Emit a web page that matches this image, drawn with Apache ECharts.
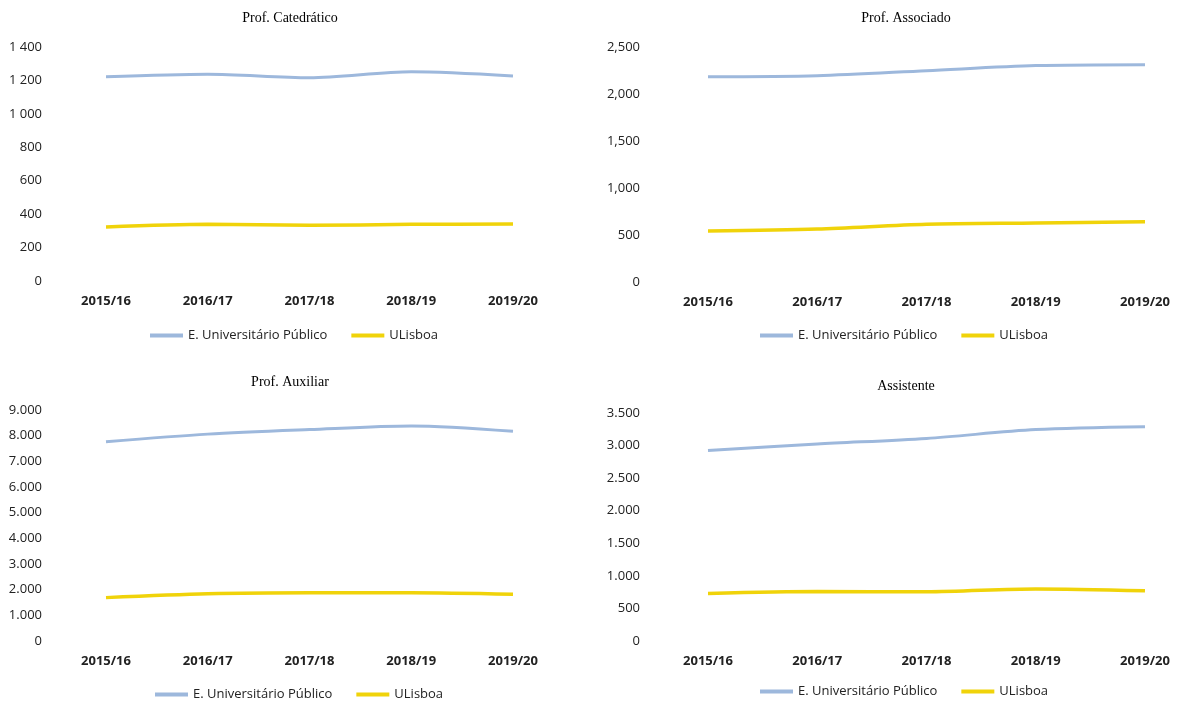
<!DOCTYPE html>
<html>
<head>
<meta charset="utf-8">
<title>Docentes por categoria</title>
<script src="https://cdn.jsdelivr.net/npm/echarts@6/dist/echarts.min.js"></script>
<style>
  html, body { margin: 0; padding: 0; background: #ffffff; }
  #chart { width: 1179px; height: 708px; }
</style>
</head>
<body>
<div id="chart"></div>
<script>
// Academic years on the category axis
const years = ['2015/16', '2016/17', '2017/18', '2018/19', '2019/20'];

// Series names
const seriesPublic = 'E. Universitário Público';
const seriesULisboa = 'ULisboa';

// Panel titles
const panelTitles = ['Prof. Catedrático', 'Prof. Associado', 'Prof. Auxiliar', 'Assistente'];

// Headcounts per category
const catPublic = [1222, 1237, 1216, 1252, 1227];
const catULisboa = [323, 339, 333, 339, 341];

const assocPublic = [2184, 2195, 2248, 2302, 2312];
const assocULisboa = [543, 564, 614, 628, 642];

const auxPublic = [7760, 8060, 8240, 8380, 8170];
const auxULisboa = [1690, 1840, 1880, 1880, 1820];

const assistPublic = [2925, 3025, 3110, 3245, 3290];
const assistULisboa = [730, 760, 755, 800, 772];

// Y-axis tick labels, as printed on each panel
const catTicks = ['0', '200', '400', '600', '800', '1 000', '1 200', '1 400'];
const assocTicks = ['0', '500', '1,000', '1,500', '2,000', '2,500'];
const auxTicks = ['0', '1.000', '2.000', '3.000', '4.000', '5.000', '6.000', '7.000', '8.000', '9.000'];
const assistTicks = ['0', '500', '1.000', '1.500', '2.000', '2.500', '3.000', '3.500'];

const BLUE = '#9db8dc';
const YELLOW = '#f0d30a';
const SANS = '"Open Sans", "Liberation Sans", sans-serif';
const SERIF = '"Liberation Serif", "DejaVu Serif", serif';

const panels = [
  { pub: catPublic, uli: catULisboa, ticks: catTicks, step: 200,
    grid: { left: 106, top: 47, width: 407, height: 234 }, labelMargin: 64,
    title: { x: 290, y: 11 }, legend: { x: 150, y: 329 } },
  { pub: assocPublic, uli: assocULisboa, ticks: assocTicks, step: 500,
    grid: { left: 708, top: 47, width: 437, height: 235 }, labelMargin: 68,
    title: { x: 906, y: 11 }, legend: { x: 760, y: 329 } },
  { pub: auxPublic, uli: auxULisboa, ticks: auxTicks, step: 1000,
    grid: { left: 106, top: 410, width: 407, height: 231 }, labelMargin: 64,
    title: { x: 290, y: 375 }, legend: { x: 155, y: 688 } },
  { pub: assistPublic, uli: assistULisboa, ticks: assistTicks, step: 500,
    grid: { left: 708, top: 413, width: 437, height: 228 }, labelMargin: 68,
    title: { x: 906, y: 379 }, legend: { x: 760, y: 685 } }
];

const option = {
  backgroundColor: '#ffffff',
  animation: false,
  title: [],
  legend: [],
  grid: [],
  xAxis: [],
  yAxis: [],
  series: []
};

panels.forEach(function (p, i) {
  option.title.push({
    text: panelTitles[i],
    left: p.title.x,
    top: p.title.y,
    textAlign: 'center',
    padding: 0,
    textStyle: { fontFamily: SERIF, fontSize: 14, fontWeight: 'normal', color: '#000' }
  });
  option.legend.push({
    data: [seriesPublic, seriesULisboa],
    left: p.legend.x,
    top: p.legend.y,
    padding: 0,
    icon: 'rect',
    itemWidth: 33,
    itemHeight: 4,
    itemGap: 24,
    selectedMode: false,
    textStyle: { fontFamily: SANS, fontSize: 13, color: '#222' }
  });
  option.grid.push({
    left: p.grid.left,
    top: p.grid.top,
    width: p.grid.width,
    height: p.grid.height,
    containLabel: false
  });
  option.xAxis.push({
    type: 'category',
    gridIndex: i,
    data: years,
    boundaryGap: false,
    axisLine: { show: false },
    axisTick: { show: false },
    splitLine: { show: false },
    axisLabel: {
      margin: 14,
      fontFamily: SANS,
      fontSize: 13,
      fontWeight: 'bold',
      color: '#222'
    }
  });
  option.yAxis.push({
    type: 'value',
    gridIndex: i,
    min: 0,
    max: p.step * (p.ticks.length - 1),
    interval: p.step,
    axisLine: { show: false },
    axisTick: { show: false },
    splitLine: { show: false },
    axisLabel: {
      margin: p.labelMargin,
      fontFamily: SANS,
      fontSize: 13,
      color: '#222',
      formatter: function (v) { return p.ticks[Math.round(v / p.step)]; }
    }
  });
  option.series.push({
    name: seriesPublic,
    type: 'line',
    xAxisIndex: i,
    yAxisIndex: i,
    data: p.pub,
    smooth: 0.3,
    symbol: 'none',
    lineStyle: { color: BLUE, width: 3 },
    itemStyle: { color: BLUE }
  });
  option.series.push({
    name: seriesULisboa,
    type: 'line',
    xAxisIndex: i,
    yAxisIndex: i,
    data: p.uli,
    smooth: 0.3,
    symbol: 'none',
    lineStyle: { color: YELLOW, width: 3.5 },
    itemStyle: { color: YELLOW }
  });
});

const chart = echarts.init(document.getElementById('chart'), null, { renderer: 'canvas' });
chart.setOption(option);
</script>
</body>
</html>
